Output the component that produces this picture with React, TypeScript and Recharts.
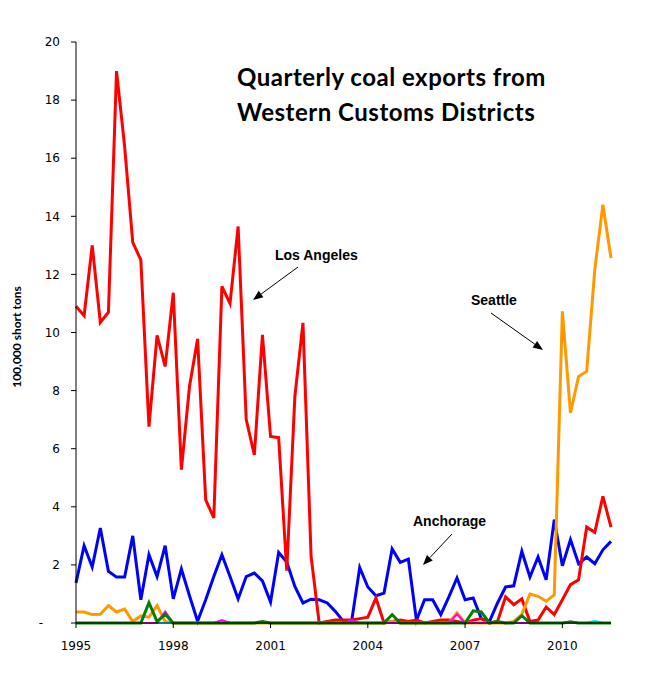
import { LineChart, Line, XAxis, YAxis } from 'recharts';

// quarterly values, 1995 Q1 .. 2011 Q3, in 100,000 short tons
const losAngeles = [
  10.9, 10.58, 13.0, 10.35, 10.7, 19.0, 16.4, 13.1, 12.5, 6.76, 9.9, 8.83,
  11.37, 5.28, 8.14, 9.78, 4.24, 3.62, 11.59, 11.0, 13.65, 7.0, 5.79, 9.92,
  6.42, 6.38, 1.8, 7.8, 10.33, 2.3, 0, 0.05, 0.1, 0.1, 0.1, 0.15,
  0.2, 0.86, 0, 0.05, 0.1, 0.05, 0.1, 0, 0.05, 0.1, 0.1, 0.05,
  0, 0.1, 0.15, 0, 0.05, 0.9, 0.63, 0.83, 0.05, 0.1, 0.55, 0.29,
  0.8, 1.32, 1.49, 3.3, 3.12, 4.36, 3.3,
];
const anchorage = [
  1.38, 2.66, 1.93, 3.27, 1.78, 1.58, 1.58, 3.0, 0.8, 2.35, 1.6, 2.66,
  0.83, 1.86, 0.94, 0.06, 0.8, 1.6, 2.35, 1.6, 0.83, 1.6, 1.72, 1.45,
  0.72, 2.43, 2.1, 1.26, 0.69, 0.82, 0.8, 0.69, 0.4, 0.05, 0.05, 1.91,
  1.24, 0.94, 1.03, 2.55, 2.09, 2.2, 0.09, 0.8, 0.8, 0.29, 0.9, 1.55,
  0.8, 0.86, 0.15, 0.05, 0.69, 1.24, 1.28, 2.47, 1.58, 2.27, 1.49, 3.56,
  1.97, 2.87, 2.04, 2.27, 2.04, 2.52, 2.81,
];
const seattle = [
  0.38, 0.38, 0.29, 0.3, 0.6, 0.38, 0.48, 0.05, 0.25, 0.2, 0.6, 0.05,
  0, 0, 0, 0, 0, 0, 0, 0, 0, 0, 0, 0,
  0, 0, 0, 0, 0, 0, 0, 0, 0, 0, 0, 0,
  0, 0, 0, 0.05, 0, 0, 0, 0, 0, 0, 0, 0.35,
  0, 0, 0, 0, 0, 0, 0.05, 0.3, 1.0, 0.92, 0.75, 0.97,
  10.73, 7.23, 8.49, 8.66, 12.16, 14.4, 12.56,
];
const otherGreen = [
  0, 0, 0, 0, 0, 0, 0, 0, 0, 0.7, 0.05, 0.3,
  0, 0, 0, 0, 0, 0, 0, 0, 0, 0, 0, 0.05,
  0, 0, 0, 0, 0, 0, 0, 0, 0, 0, 0, 0,
  0, 0, 0, 0.29, 0, 0, 0, 0, 0, 0, 0, 0,
  0, 0.42, 0.38, 0, 0.05, 0, 0, 0.25, 0, 0, 0, 0,
  0, 0.03, 0, 0, 0, 0, 0,
];
const otherMagenta = [
  0, 0, 0, 0, 0, 0, 0, 0, 0, 0, 0, 0.4,
  0, 0, 0, 0, 0, 0, 0.1, 0, 0, 0, 0, 0,
  0, 0, 0, 0, 0, 0, 0, 0, 0, 0, 0.1, 0,
  0, 0, 0, 0, 0, 0, 0, 0, 0, 0, 0, 0.3,
  0, 0, 0, 0, 0, 0, 0, 0, 0, 0, 0, 0,
  0, 0.05, 0, 0, 0, 0, 0,
];
const otherCyan = [
  0, 0, 0, 0, 0, 0, 0, 0, 0, 0, 0, 0,
  0, 0, 0, 0, 0, 0, 0, 0, 0, 0, 0, 0,
  0, 0, 0, 0, 0, 0, 0, 0, 0, 0, 0, 0,
  0, 0, 0, 0, 0, 0, 0, 0, 0, 0, 0, 0,
  0, 0, 0, 0, 0, 0, 0, 0, 0, 0, 0, 0,
  0, 0, 0, 0, 0.08, 0, 0,
];

const xTicks = [0, 12, 24, 36, 48, 60];
const xTickLabels = ['1995', '1998', '2001', '2004', '2007', '2010'];
const yTicks = [0, 2, 4, 6, 8, 10, 12, 14, 16, 18, 20];

const data = losAngeles.map((v, i) => ({
  q: i,
  losAngeles: v,
  anchorage: anchorage[i],
  seattle: seattle[i],
  green: otherGreen[i],
  magenta: otherMagenta[i],
  cyan: otherCyan[i],
}));

const tickFont = { fontFamily: 'DejaVu Sans', fontSize: 12, fill: '#000' };

function YTick({ x, y, payload }: any) {
  const isZero = payload.value === 0;
  return (
    <text x={isZero ? x - 17 : x} y={y} dy="0.35em" textAnchor="end" {...tickFont}>
      {isZero ? '-' : payload.value}
    </text>
  );
}

function Arrow({ x1, y1, x2, y2 }: { x1: number; y1: number; x2: number; y2: number }) {
  const a = Math.atan2(y2 - y1, x2 - x1);
  const len = 10;
  const w = 4;
  const bx = x2 - len * Math.cos(a);
  const by = y2 - len * Math.sin(a);
  const pts = [
    `${x2},${y2}`,
    `${bx + w * Math.sin(a)},${by - w * Math.cos(a)}`,
    `${bx - w * Math.sin(a)},${by + w * Math.cos(a)}`,
  ].join(' ');
  return (
    <g>
      <line x1={x1} y1={y1} x2={bx} y2={by} stroke="#000" strokeWidth={1} />
      <polygon points={pts} fill="#000" />
    </g>
  );
}

const labelStyle = { fontFamily: 'Liberation Sans', fontWeight: 700, fontSize: 14, fill: '#000' };
const titleStyle = { fontFamily: 'Lato', fontWeight: 700, fontSize: 24, letterSpacing: 0.5, fill: '#000' };

export default function App() {
  return (
    <div style={{ position: 'absolute', left: 0, top: 0, width: 666, height: 675, background: '#fff' }}>
      <LineChart
        width={666}
        height={675}
        data={data}
        margin={{ top: 42, right: 55, bottom: 22, left: 16 }}
      >
        <XAxis
          type="number"
          dataKey="q"
          domain={[0, 66]}
          ticks={xTicks}
          tickFormatter={(v) => xTickLabels[xTicks.indexOf(v)]}
          axisLine={{ stroke: '#000' }}
          tickLine={{ stroke: '#000' }}
          tickSize={5}
          tickMargin={13}
          tick={tickFont}
          height={30}
        />
        <YAxis
          type="number"
          domain={[0, 20]}
          ticks={yTicks}
          axisLine={{ stroke: '#000' }}
          tickLine={{ stroke: '#000' }}
          tickSize={5}
          tickMargin={11}
          tick={<YTick />}
          width={60}
          interval={0}
        />
        <Line dataKey="anchorage" name="Anchorage" stroke="#0000ff" strokeWidth={3} dot={false} type="linear" isAnimationActive={false} />
        <Line dataKey="losAngeles" name="Los Angeles" stroke="#ff0000" strokeWidth={3} dot={false} type="linear" isAnimationActive={false} />
        <Line dataKey="seattle" name="Seattle" stroke="#ff9900" strokeWidth={3} dot={false} type="linear" isAnimationActive={false} />
        <Line dataKey="cyan" stroke="#00ffff" strokeWidth={2} dot={false} type="linear" isAnimationActive={false} />
        <Line dataKey="magenta" stroke="#ff00ff" strokeWidth={2} dot={false} type="linear" isAnimationActive={false} />
        <Line dataKey="green" stroke="#008000" strokeWidth={3} dot={false} type="linear" isAnimationActive={false} />
      </LineChart>
      <svg width={666} height={675} style={{ position: 'absolute', left: 0, top: 0, pointerEvents: 'none' }}>
        <text x={237} y={86} {...titleStyle}>
          Quarterly coal exports from
        </text>
        <text x={237} y={121} {...titleStyle}>
          Western Customs Districts
        </text>
        <text
          transform="translate(21,337) rotate(-90)"
          textAnchor="middle"
          fontFamily="Lato"
          fontWeight={700}
          fontSize={12}
          fill="#000"
        >
          100,000 short tons
        </text>
        <text x={275} y={260} {...labelStyle}>Los Angeles</text>
        <Arrow x1={298} y1={267} x2={253} y2={300} />
        <text x={471} y={305} {...labelStyle}>Seattle</text>
        <Arrow x1={491} y1={313} x2={543} y2={350} />
        <text x={413} y={526} {...labelStyle}>Anchorage</text>
        <Arrow x1={452} y1={534} x2={423} y2={565} />
      </svg>
    </div>
  );
}
